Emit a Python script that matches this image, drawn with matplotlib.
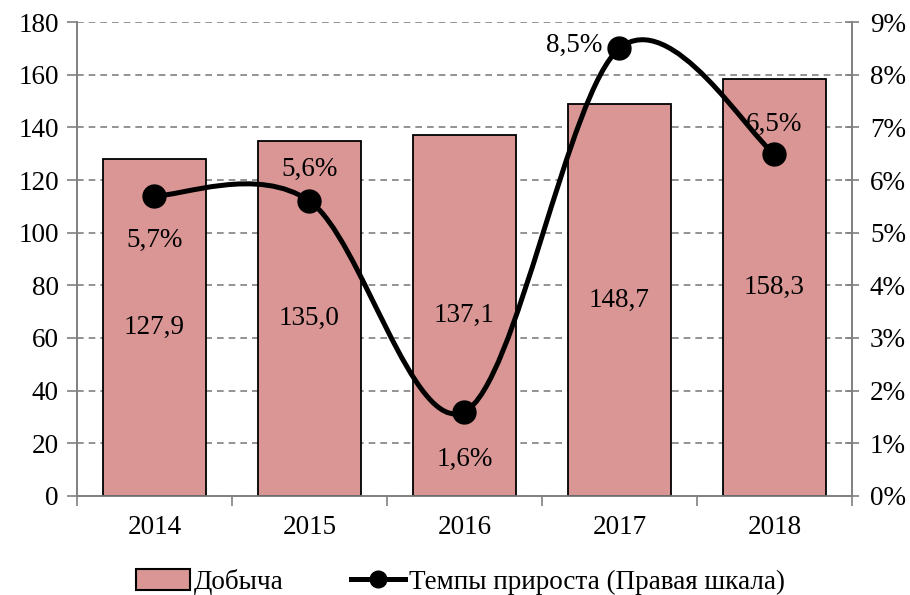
import matplotlib.pyplot as plt
import matplotlib.lines as mlines
import matplotlib.patches as mpatches
import numpy as np
from matplotlib.path import Path

plt.rcParams['font.family'] = ['Liberation Serif', 'DejaVu Serif']
plt.rcParams['font.size'] = 19.5

# Данные
years = ['2014', '2015', '2016', '2017', '2018']
dobycha = [127.9, 135.0, 137.1, 148.7, 158.3]
tempy = [5.7, 5.6, 1.6, 8.5, 6.5]

bar_color = '#D99694'
grid_color = '#808080'

fig = plt.figure(figsize=(9.1, 5.95), dpi=100)
ax = fig.add_axes([0.0846, 0.1664, 0.8516, 0.7966])
ax2 = ax.twinx()

x = np.arange(len(years))
ax.bar(x, dobycha, width=0.66, color=bar_color, edgecolor='black', linewidth=1.3, zorder=3)
for xi, v in zip(x, dobycha):
    ax.text(xi, v / 2, f'{v:.1f}'.replace('.', ','), ha='center', va='center', zorder=4)

ax.set_xlim(-0.5, len(years) - 0.5)
ax.set_ylim(0, 180)
ax.set_yticks(np.arange(0, 181, 20))
ax.yaxis.grid(True, linestyle=(0, (4, 3)), color=grid_color, linewidth=1.2)
ax.set_axisbelow(True)
ax.set_xticks(x)
ax.set_xticklabels(years)
ax.set_xticks(np.arange(-0.5, len(years), 1), minor=True)
ax.tick_params(axis='x', which='major', length=0, pad=14)
ax.tick_params(axis='x', which='minor', length=7, color=grid_color, width=1.2, direction='out')
ax.tick_params(axis='y', length=7, color=grid_color, width=1.2, direction='out', pad=6)

for a in (ax, ax2):
    a.spines['top'].set_visible(False)
    for s in ('left', 'right', 'bottom'):
        a.spines[s].set_color(grid_color)
        a.spines[s].set_linewidth(1.2)

# Сглаженная линия (Безье как в Excel)
pts = np.column_stack([x, tempy]).astype(float)
n = len(pts)
verts = [pts[0]]
codes = [Path.MOVETO]
for i in range(n - 1):
    p0 = pts[i - 1] if i > 0 else pts[i]
    p1 = pts[i]
    p2 = pts[i + 1]
    p3 = pts[i + 2] if i + 2 < n else pts[i + 1]
    c1 = p1 + (p2 - p0) / 6
    c2 = p2 - (p3 - p1) / 6
    verts += [c1, c2, p2]
    codes += [Path.CURVE4] * 3
curve = mpatches.PathPatch(Path(verts, codes), facecolor='none', edgecolor='black',
                           linewidth=3.6, zorder=5, capstyle='round')
ax2.add_patch(curve)
ax2.plot(x, tempy, 'o', color='black', markersize=16.5, zorder=6)

ax2.set_ylim(0, 9)
ax2.set_yticks(np.arange(0, 10, 1))
ax2.set_yticklabels([f'{i}%' for i in range(10)])
ax2.tick_params(axis='y', length=10, color=grid_color, width=1.2, direction='inout', pad=8)

# Подписи темпов
offsets = [(0, -0.85), (0, 0.6), (0, -0.9), (-0.29, 0.06), (0, 0.56)]
for xi, v, (dx, dy) in zip(x, tempy, offsets):
    ax2.text(xi + dx, v + dy, f'{v:.1f}%'.replace('.', ','), ha='center', va='center', zorder=7)

# Легенда
h_bar = mpatches.Patch(facecolor=bar_color, edgecolor='black', linewidth=1.5, label='Добыча')
h_line = mlines.Line2D([], [], color='black', linewidth=3.6, marker='o', markersize=12,
                       label='Темпы прироста (Правая шкала)')
fig.legend(handles=[h_bar, h_line], loc='center', bbox_to_anchor=(0.506, 0.022), ncol=2,
           frameon=False, handlelength=2.0, handleheight=0.8, handletextpad=0.15,
           columnspacing=2.5)

fig.savefig('out.png', dpi=100, facecolor='white')
